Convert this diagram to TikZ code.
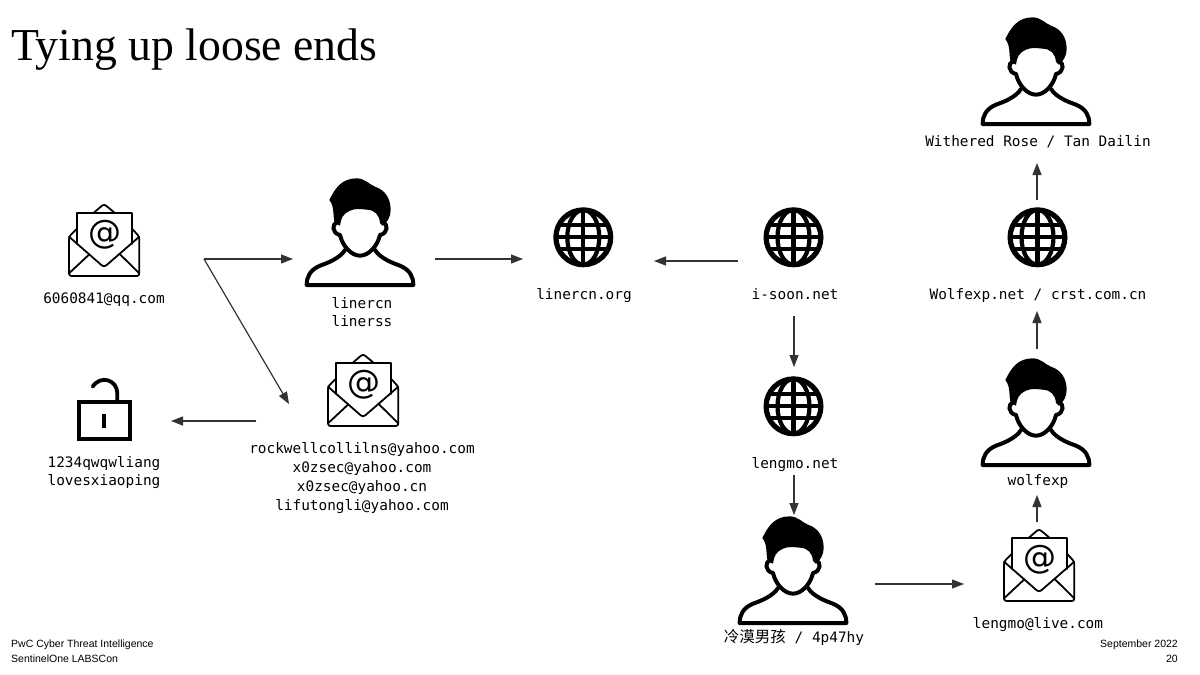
\documentclass[tikz,border=0pt]{standalone}
\usepackage{fontspec}
\setmainfont{Liberation Sans}
\setmonofont{DejaVu Sans Mono}
\newfontfamily\titlefont{Liberation Serif}
\newfontfamily\cjkfont{Noto Sans CJK SC}
\newfontfamily\signfont{DejaVu Sans}
\usetikzlibrary{arrows.meta}
\definecolor{ink}{HTML}{000000}
\definecolor{connc}{HTML}{333333}
\tikzset{
  x=1pt,y=-1pt,
  lab/.style={font=\fontsize{14.4}{18.8}\selectfont\ttfamily,text=ink,inner sep=0pt,align=center,anchor=center},
  lab1/.style={font=\fontsize{14.4}{18.8}\selectfont\ttfamily,text=ink,inner sep=0pt,anchor=base},
  foot/.style={font=\fontsize{10.5}{14}\selectfont,text=ink,inner sep=0pt},
  conn/.style={draw=connc,line width=1.2pt,-{Triangle[length=12pt,width=9pt]}},
  person/.pic={
    \begin{scope}[scale=1/3,line join=round,line cap=round]
      \draw[line width=4pt,fill=white] (-45,45) .. controls (-60,70) and (-100,85) .. (-120,92)
        .. controls (-150,105) and (-160,125) .. (-160,150) -- (160,150)
        .. controls (160,125) and (150,105) .. (120,92) .. controls (100,85) and (60,70) .. (45,45);
      \fill[white] (-60,-70) rectangle (60,5) (-60,0) .. controls (-52,35) and (-25,62) .. (0,62) .. controls (25,62) and (52,35) .. (60,0) -- cycle;
      \draw[line width=4pt] (-68,-38) .. controls (-85,-35) and (-85,-5) .. (-60,0)
        .. controls (-52,35) and (-25,62) .. (0,62) .. controls (25,62) and (52,35) .. (60,0)
        .. controls (85,-5) and (85,-35) .. (68,-38);
      \fill[ink] (-92,-105) .. controls (-75,-140) and (-55,-170) .. (-10,-170)
        .. controls (15,-170) and (30,-150) .. (45,-145)
        .. controls (75,-135) and (92,-110) .. (92,-75)
        .. controls (92,-55) and (82,-38) .. (68,-28) -- (60,-36)
        .. controls (58,-60) and (45,-75) .. (20,-76)
        .. controls (0,-78) and (-15,-80) .. (-30,-73)
        .. controls (-50,-65) and (-58,-50) .. (-60,-28)
        -- (-76,-36) .. controls (-82,-60) and (-76,-85) .. (-92,-105) -- cycle;
    \end{scope}
  },
  mail/.pic={
    \begin{scope}[scale=1/3,line join=round,line cap=round]
      \draw[line width=1.8pt,fill=white,rounded corners=2.5pt] (-105,-10) -- (-80,-35) -- (-27,-85) -- (0,-108) -- (28,-85) -- (83,-35) -- (106,-10) -- (106,108) -- (-105,108) -- cycle;
      \fill[white] (-80,-82) -- (83,-82) -- (83,12) -- (0,82) -- (-80,12) -- cycle;
      \draw[line width=1.8pt] (-80,12) -- (-80,-82) -- (83,-82) -- (83,12);
      \draw[line width=1.8pt,rounded corners=3pt] (-105,-10) -- (0,82) -- (106,-10);
      \draw[line width=1.8pt] (-105,100) -- (-44,43) (106,100) -- (48,43);
      \node (-sign) at (3,-15) [inner sep=0pt,text=ink,font=\fontsize{33}{35}\selectfont\signfont] {@};
    \end{scope}
  },
  globe/.pic={
    \draw[ink,line width=5.2pt] (0,0) circle[radius=27.4];
    \draw[ink,line width=4.2pt] (0,0) ellipse[x radius=16,y radius=27.4];
    \draw[ink,line width=4.2pt] (0,-27.4) -- (0,27.4) (-27.4,0) -- (27.4,0)
      (-24.5,-12) -- (24.5,-12) (-24.5,12) -- (24.5,12);
  },
  padlock/.pic={
    \begin{scope}[scale=1/3,line join=miter]
      \draw[ink,line width=3.8pt] (57,112) rectangle (210,222);
      \fill[ink] (125,148) rectangle (138,190);
      \draw[ink,line width=3.8pt,line cap=round] (172,112) -- (172,85) .. controls (172,45) and (122,28) .. (98,65);
    \end{scope}
  }
}
\begin{document}
\begin{tikzpicture}
\useasboundingbox[fill=white] (0,0) rectangle (1200,675);

% title and footer
\node[anchor=base west,inner sep=0pt,text=ink,font=\fontsize{45.7}{50}\selectfont\titlefont] (title) at (11,60) {Tying up loose ends};
\node[foot,anchor=west] (foota) at (11,645) {PwC Cyber Threat Intelligence};
\node[foot,anchor=west] (footb) at (11,659) {SentinelOne LABSCon};
\node[foot,anchor=east] (footc) at (1178,645) {September 2022};
\node[foot,anchor=east] (footd) at (1178,659) {20};

% icons
\pic (mailqq) at (104,240) {mail};
\pic (mailyahoo) at (363,390) {mail};
\pic (maillive) at (1039,565) {mail};
\pic (plinercn) at (360,235) {person};
\pic (pwithered) at (1036,74) {person};
\pic (pwolfexp) at (1036,415) {person};
\pic (plengmo) at (793,573) {person};
\pic (gliner) at (583.3,237.3) {globe};
\pic (gisoon) at (793.5,237.3) {globe};
\pic (glengmo) at (793.5,406.3) {globe};
\pic (gwolf) at (1037.5,237.3) {globe};
\pic (lock) at (60,365) {padlock};

% labels
\node[lab1] (tqq) at (104,303) {6060841@qq.com};
\node[lab] (tliner) at (362,312) {linercn\\linerss};
\node[lab1] (tlinerorg) at (584,299) {linercn.org};
\node[lab1] (tisoon) at (795,299) {i-soon.net};
\node[lab1] (twolfnet) at (1038,299) {Wolfexp.net / crst.com.cn};
\node[lab1] (twithered) at (1038,146) {Withered Rose / Tan Dailin};
\node[lab] (tpass) at (104,472.5) {1234qwqwliang\\lovesxiaoping};
\node[lab] (tyahoo) at (362,478) {rockwellcollilns@yahoo.com\\x0zsec@yahoo.com\\x0zsec@yahoo.cn\\lifutongli@yahoo.com};
\node[lab1] (tlengmonet) at (795,468) {lengmo.net};
\node[lab1] (twolfexp) at (1038,485.5) {wolfexp};
\node[lab1] (tlive) at (1038,628) {lengmo@live.com};
\node[lab1] (thy) at (794,642) {{\cjkfont\fontsize{15.5}{19}\selectfont 冷漠男孩} / 4p47hy};

% connector ends
\coordinate (qqout) at (204,259);
\coordinate (linerin) at (293,259);
\coordinate (yahooin) at (289,404);
\coordinate (linerout) at (435,259);
\coordinate (orgin) at (523,259);
\coordinate (soonleft) at (738,261);
\coordinate (orgright) at (654,261);
\coordinate (soondown) at (794,316);
\coordinate (lengmotop) at (794,367);
\coordinate (lengmodown) at (794,475);
\coordinate (persontop) at (794,515);
\coordinate (personout) at (875,584);
\coordinate (livein) at (964,584);
\coordinate (liveup) at (1037,522);
\coordinate (wolfin) at (1037,495);
\coordinate (wolfup) at (1037,349);
\coordinate (netin) at (1037,311);
\coordinate (netup) at (1037,200);
\coordinate (rosein) at (1037,163);
\coordinate (yahooout) at (256,421);
\coordinate (lockin) at (171,421);

% connectors
\draw[conn] (qqout) -- (linerin);
\draw[conn] (qqout) -- (yahooin);
\draw[conn] (linerout) -- (orgin);
\draw[conn] (soonleft) -- (orgright);
\draw[conn] (soondown) -- (lengmotop);
\draw[conn] (lengmodown) -- (persontop);
\draw[conn] (personout) -- (livein);
\draw[conn] (liveup) -- (wolfin);
\draw[conn] (wolfup) -- (netin);
\draw[conn] (netup) -- (rosein);
\draw[conn] (yahooout) -- (lockin);
\end{tikzpicture}
\end{document}
